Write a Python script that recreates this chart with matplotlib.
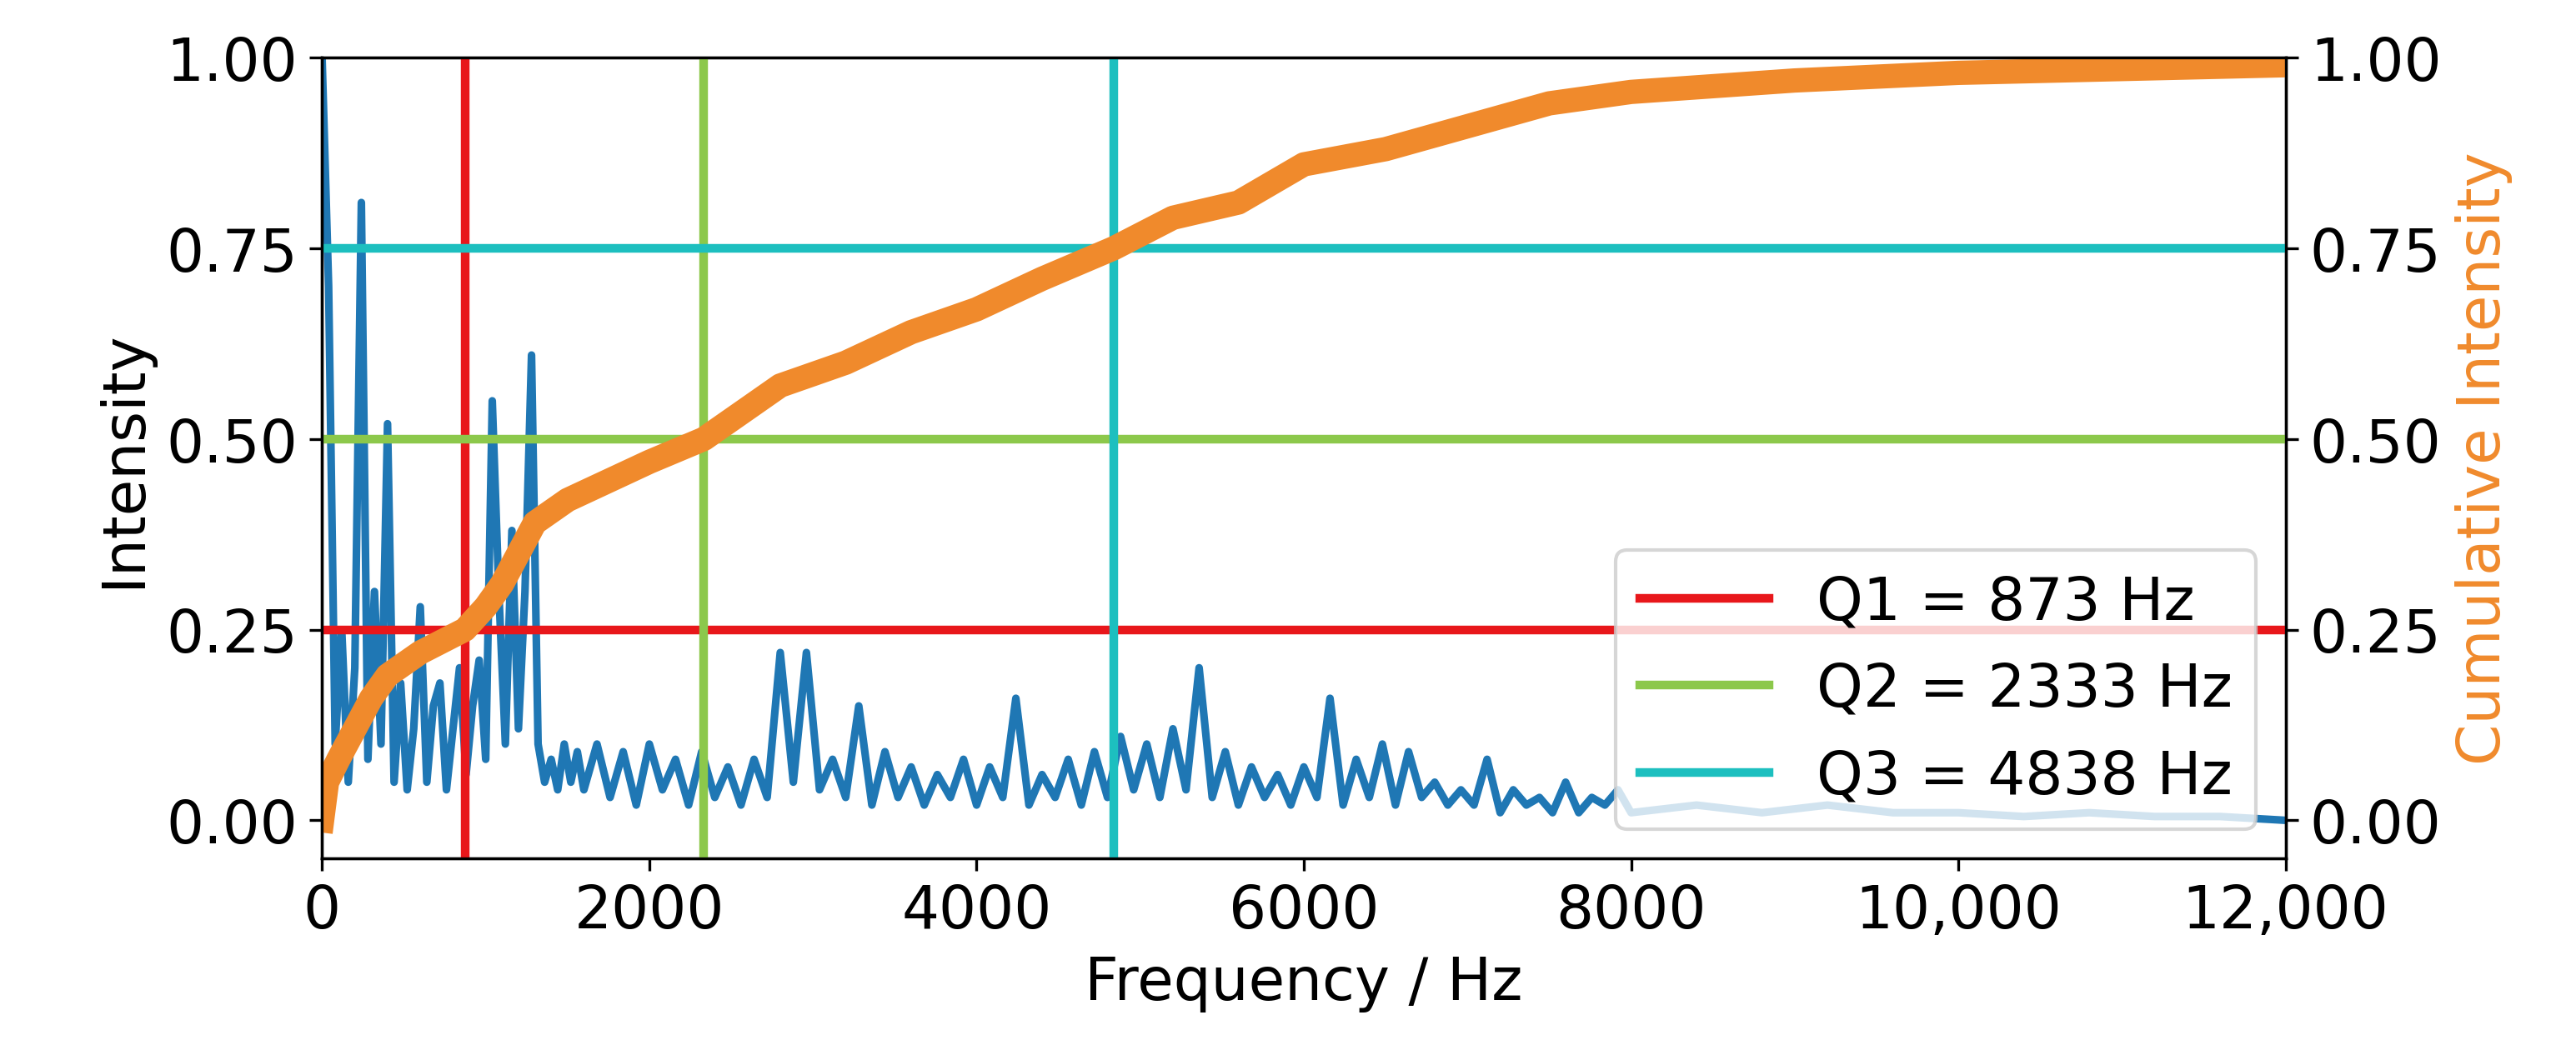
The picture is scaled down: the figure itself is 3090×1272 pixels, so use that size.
import matplotlib.pyplot as plt
from matplotlib.ticker import FuncFormatter

# spectrum
freq_low = list(range(0, 1601, 40))
inten_low = [1.0, 0.70, 0.10, 0.25, 0.05, 0.20, 0.81, 0.08, 0.30, 0.10, 0.52, 0.05, 0.18, 0.04,
             0.12, 0.28, 0.05, 0.15, 0.18, 0.04, 0.12, 0.20, 0.06, 0.15, 0.21, 0.08, 0.55, 0.30,
             0.10, 0.38, 0.12, 0.30, 0.61, 0.10, 0.05, 0.08, 0.04, 0.10, 0.05, 0.09, 0.04]
freq_mid = list(range(1680, 8001, 80))
inten_mid = [0.10, 0.03, 0.09, 0.02, 0.10, 0.04, 0.08, 0.02, 0.09, 0.03, 0.07, 0.02, 0.08, 0.03,
             0.22, 0.05, 0.22, 0.04, 0.08, 0.03, 0.15, 0.02, 0.09, 0.03, 0.07, 0.02, 0.06, 0.03,
             0.08, 0.02, 0.07, 0.03, 0.16, 0.02, 0.06, 0.03, 0.08, 0.02, 0.09, 0.03, 0.11, 0.04,
             0.10, 0.03, 0.12, 0.04, 0.20, 0.03, 0.09, 0.02, 0.07, 0.03, 0.06, 0.02, 0.07, 0.03,
             0.16, 0.02, 0.08, 0.03, 0.10, 0.02, 0.09, 0.03, 0.05, 0.02, 0.04, 0.02, 0.08, 0.01,
             0.04, 0.02, 0.03, 0.01, 0.05, 0.01, 0.03, 0.02, 0.04, 0.01]
freq_high = list(range(8400, 12001, 400))
inten_high = [0.02, 0.01, 0.02, 0.01, 0.01, 0.005, 0.01, 0.005, 0.005, 0.0]

cum_freq = [0, 30, 100, 200, 300, 400, 600, 873, 1000, 1100, 1250, 1300, 1500, 1800, 2000, 2333,
            2600, 2800, 3200, 3600, 4000, 4400, 4838, 5200, 5600, 6000, 6500, 7000, 7500, 8000,
            9000, 10000, 11000, 12000]
cum_val = [0.0, 0.05, 0.08, 0.12, 0.16, 0.19, 0.22, 0.25, 0.28, 0.31, 0.37, 0.39, 0.42, 0.45,
           0.47, 0.50, 0.54, 0.57, 0.60, 0.64, 0.67, 0.71, 0.75, 0.79, 0.81, 0.86, 0.88, 0.91,
           0.94, 0.955, 0.97, 0.98, 0.985, 0.99]

quartiles = [873, 2333, 4838]
levels = [0.25, 0.5, 0.75]
q_colors = ["#e8171b", "#8cc84b", "#1dbfbf"]
q_labels = ["Q1 = 873 Hz", "Q2 = 2333 Hz", "Q3 = 4838 Hz"]

plt.rcParams["font.size"] = 17
fig = plt.figure(figsize=(10.303, 4.243), dpi=300)
ax = fig.add_axes([0.125, 0.19, 0.762, 0.755])
ax2 = ax.twinx()

ax.plot(freq_low + freq_mid + freq_high, inten_low + inten_mid + inten_high,
        color="#1f77b4", linewidth=2.2, zorder=1)
handles = []
for q, lv, c, lab in zip(quartiles, levels, q_colors, q_labels):
    h = ax2.axvline(q, color=c, linewidth=2.5, label=lab)
    ax2.axhline(lv, color=c, linewidth=2.5)
    handles.append(h)
ax2.plot(cum_freq, cum_val, color="#f08a2c", linewidth=7)

for a in (ax, ax2):
    a.set_ylim(-0.05, 1.0)
    a.set_yticks([0, 0.25, 0.5, 0.75, 1.0])
    a.yaxis.set_major_formatter(FuncFormatter(lambda v, p: f"{v:.2f}"))
ax.set_xlim(0, 12000)
ax.set_xticks(range(0, 12001, 2000))
ax.xaxis.set_major_formatter(FuncFormatter(lambda v, p: f"{int(v):,}" if v >= 10000 else f"{int(v)}"))
ax.set_xlabel("Frequency / Hz")
ax.set_ylabel("Intensity")
ax2.set_ylabel("Cumulative Intensity", color="#f08a2c")
ax2.legend(handles=handles, loc="lower right", framealpha=0.8, fontsize=17, handlelength=2.2)

fig.savefig("out.png", dpi=300)
